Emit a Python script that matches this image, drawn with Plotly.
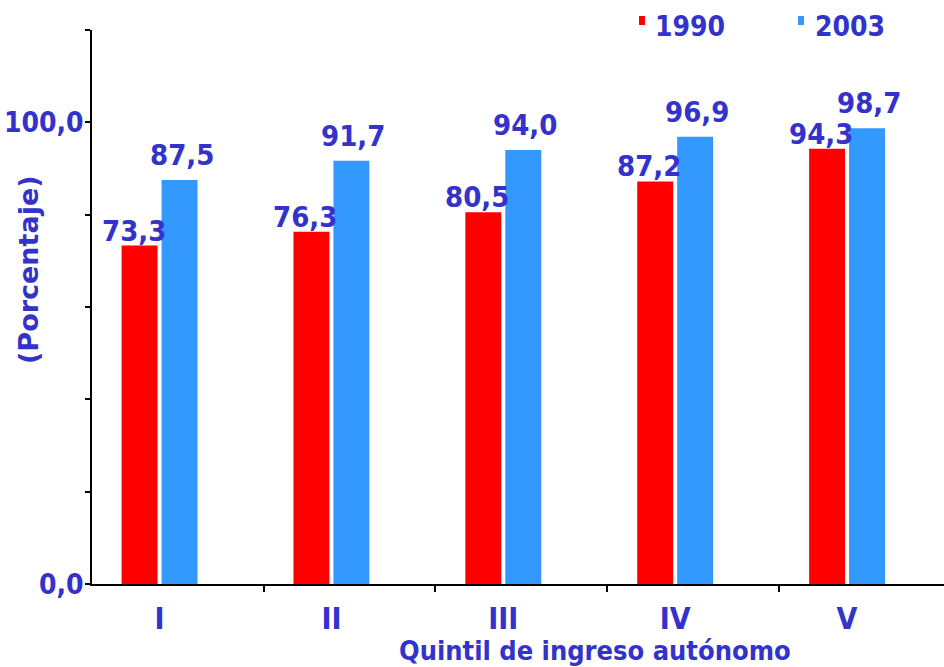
import plotly.graph_objects as go

categories = ["I", "II", "III", "IV", "V"]
series_names = ["1990", "2003"]
values_1990 = [73.3, 76.3, 80.5, 87.2, 94.3]
values_2003 = [87.5, 91.7, 94.0, 96.9, 98.7]
y_tick_values = [0, 20, 40, 60, 80, 100, 120]
y_tick_labels = ["0,0", "", "", "", "", "100,0", ""]
x_title = "Quintil de ingreso autónomo"
y_title = "(Porcentaje)"

RED = "#FF0000"
BLUE = "#3399FF"
TXT = "#3333CC"
COND = "DejaVu Sans Condensed, DejaVu Sans, sans-serif"
WIDE = "DejaVu Sans, Verdana, sans-serif"

W, H = 944, 667
L, R, T, B = 92, 0, 30, 83
PW, PH = W - L - R, H - T - B

BARGAP = 0.535
slot = (1 - BARGAP) / 2
idx = list(range(len(categories)))
xrange_ = [-0.393, 4.564]


def px_x(px):
    return (px - L) / PW


def px_y(py):
    return (H - B - py) / PH


def fmt(v):
    return f"{v:.1f}".replace(".", ",")


fig = go.Figure()
fig.add_bar(x=idx, y=values_1990, name=series_names[0], marker=dict(color=RED, line=dict(width=0)),
            showlegend=False)
fig.add_bar(x=idx, y=values_2003, name=series_names[1], marker=dict(color=BLUE, line=dict(width=0)),
            showlegend=False)
# invisible trace to carry the boundary-tick axis
fig.add_scatter(x=[None], y=[None], xaxis="x2", showlegend=False, hoverinfo="skip")

ann = []
for i, v in zip(idx, values_1990):
    ann.append(dict(x=i - slot / 2, y=v, xref="x", yref="y", text=fmt(v), showarrow=False,
                    xanchor="center", yanchor="bottom", xshift=-6, yshift=-4,
                    font=dict(family=COND, size=29, color=TXT, weight="bold")))
for i, v in zip(idx, values_2003):
    ann.append(dict(x=i + slot / 2, y=v, xref="x", yref="y", text=fmt(v), showarrow=False,
                    xanchor="center", yanchor="bottom", xshift=2, yshift=6,
                    font=dict(family=COND, size=29, color=TXT, weight="bold")))

ann.append(dict(x=0, y=px_y(270), xref="paper", yref="paper", xshift=-64, text=y_title,
                textangle=-90, showarrow=False, xanchor="center", yanchor="middle",
                font=dict(family=WIDE, size=27, color=TXT, weight="bold")))
ann.append(dict(x=px_x(595), y=px_y(650), xref="paper", yref="paper", text=x_title,
                showarrow=False, xanchor="center", yanchor="middle",
                font=dict(family=COND, size=27, color=TXT, weight="bold")))

# legend
legend_items = [(series_names[0], RED, 639, 653), (series_names[1], BLUE, 798, 813)]
shapes = []
for name, col, mx, tx in legend_items:
    ann.append(dict(x=px_x(tx), y=px_y(27), xref="paper", yref="paper", text=name, showarrow=False,
                    xanchor="left", yanchor="middle",
                    font=dict(family=COND, size=28, color=TXT, weight="bold")))
    shapes.append(dict(type="rect", xref="paper", yref="paper", x0=px_x(mx), x1=px_x(mx + 6),
                       y0=px_y(25), y1=px_y(16), fillcolor=col, line=dict(width=0)))

fig.update_layout(
    width=W, height=H,
    margin=dict(l=L, r=R, t=T, b=B),
    paper_bgcolor="white", plot_bgcolor="white",
    barmode="group", bargap=BARGAP, bargroupgap=0.1,
    annotations=ann, shapes=shapes,
    xaxis=dict(type="linear", range=xrange_, tickvals=idx, ticktext=categories, ticks="",
               showline=True, linecolor="black", linewidth=2, showgrid=False, zeroline=False,
               ticklabelstandoff=7, automargin=False,
               tickfont=dict(family=COND, size=30, color=TXT, weight="bold")),
    xaxis2=dict(type="linear", overlaying="x", anchor="y", side="bottom", range=xrange_,
                tickvals=[i - 0.395 for i in idx], ticks="outside", ticklen=7, tickwidth=1.5,
                tickcolor="black", showticklabels=False, showline=False, showgrid=False,
                zeroline=False, automargin=False),
    yaxis=dict(range=[0, 120], tickvals=y_tick_values, ticktext=y_tick_labels, ticks="outside",
               ticklen=5, tickwidth=1.5, tickcolor="black", showline=True, linecolor="black",
               linewidth=1.5, showgrid=False, zeroline=False, automargin=False,
               ticklabelstandoff=-4,
               tickfont=dict(family=COND, size=28, color=TXT, weight="bold")),
)

fig.write_html("out.html", config={"displayModeBar": False},
               post_script="document.body.style.margin='0';document.body.style.overflow='hidden';")
